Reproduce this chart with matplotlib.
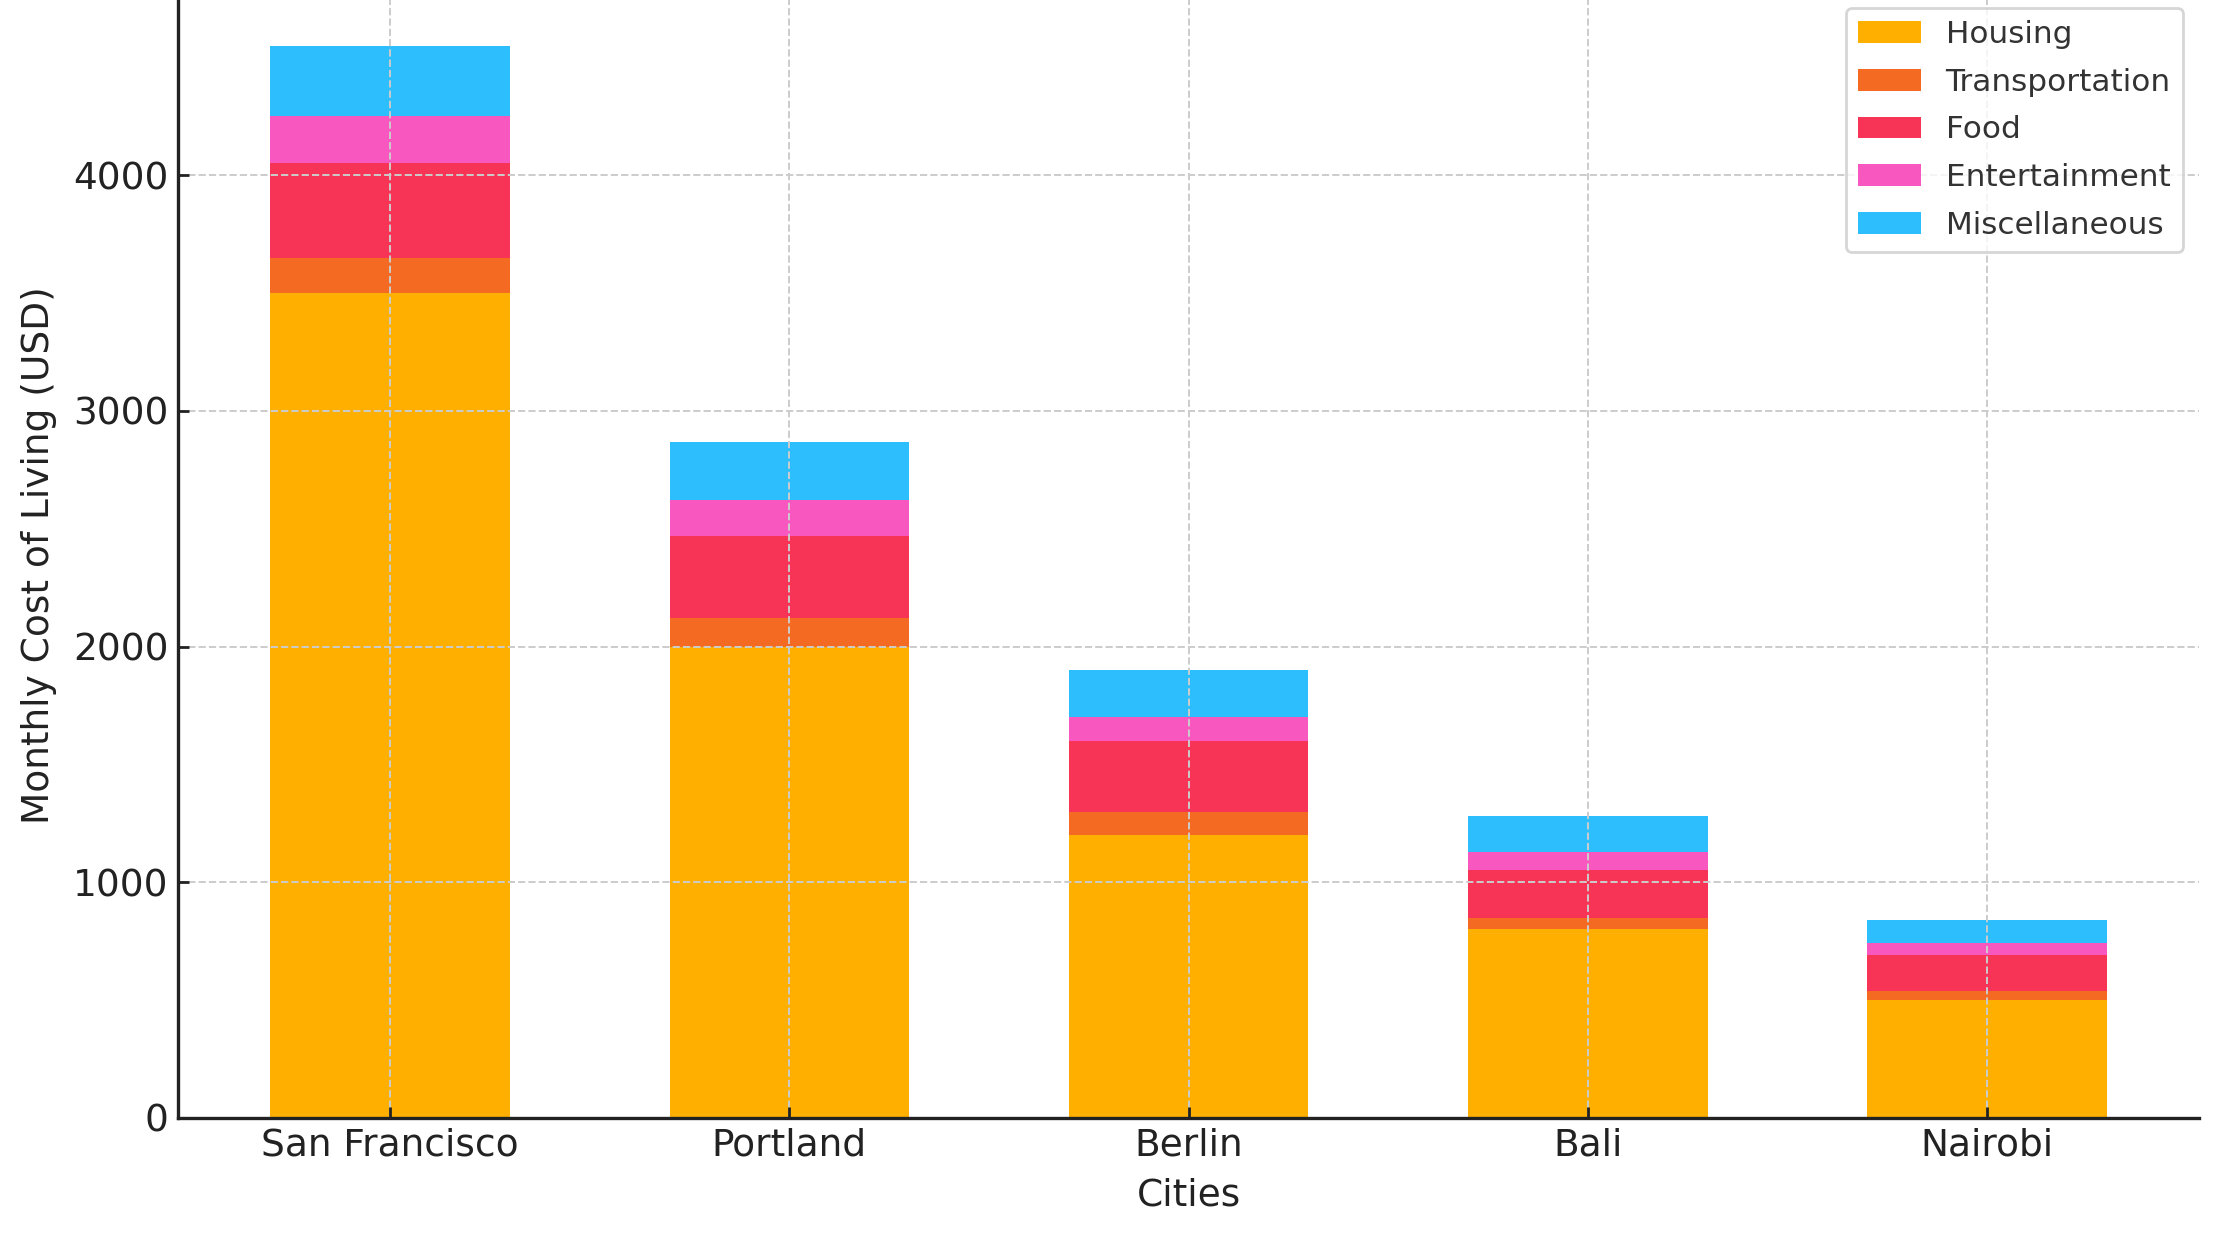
import numpy as np
import matplotlib.pyplot as plt

cities = ['San Francisco', 'Portland', 'Berlin', 'Bali', 'Nairobi']
categories = ['Housing', 'Transportation', 'Food', 'Entertainment', 'Miscellaneous']
housing = [3500, 2000, 1200, 800, 500]
transportation = [150, 120, 100, 50, 40]
food = [400, 350, 300, 200, 150]
entertainment = [200, 150, 100, 80, 50]
miscellaneous = [300, 250, 200, 150, 100]
colors = ['#FFAF00', '#F56A23', '#F73456', '#F857C0', '#2DBEFE']

series = [housing, transportation, food, entertainment, miscellaneous]

fig = plt.figure(figsize=(11.1, 6.22), dpi=200)
ax = fig.add_axes([0.0804, 0.1014, 0.91, 0.905])

x = np.arange(len(cities))
bottom = np.zeros(len(cities))
for name, vals, col in zip(categories, series, colors):
    ax.bar(x, vals, 0.6, bottom=bottom, color=col, label=name)
    bottom += np.array(vals)

ax.set_xticks(x)
ax.set_xticklabels(cities)
ax.set_ylim(0, 4777.5)
ax.set_xlim(-0.53, 4.53)
ax.set_yticks([0, 1000, 2000, 3000, 4000])
ax.set_xlabel('Cities', fontsize=13.5, color='#222222', labelpad=5)
ax.set_ylabel('Monthly Cost of Living (USD)', fontsize=13.5, color='#222222', labelpad=6)
ax.tick_params(axis='both', direction='in', labelsize=13.5, length=4, width=1, colors='#222222')
ax.grid(True, linestyle='--', color='#cccccc', linewidth=0.7)
for s in ['top', 'right']:
    ax.spines[s].set_visible(False)
for s in ['left', 'bottom']:
    ax.spines[s].set_linewidth(1.2)
    ax.spines[s].set_color('#222222')

leg = ax.legend(loc='upper right', fontsize=11.2, frameon=True, fancybox=True,
                labelspacing=0.6)
for t in leg.get_texts():
    t.set_color('#333333')

fig.savefig('out.png', dpi=200)
